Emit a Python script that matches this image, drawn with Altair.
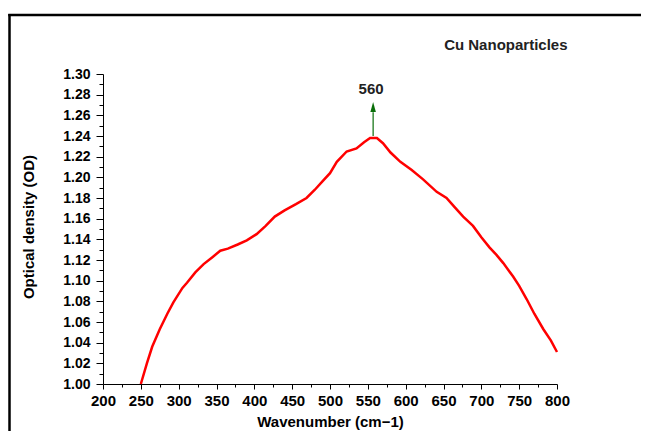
import altair as alt
import pandas as pd

# Spectrum
wavenumber = [250, 258, 265, 275, 285, 293, 305, 311, 322, 333, 345, 355, 365, 378,
              390, 403, 415, 427, 440, 455, 469, 480, 490, 500, 509, 522, 535, 545,
              553, 562, 570, 580, 593, 608, 623, 641, 654, 665, 676, 689, 700, 711,
              720, 729, 742, 750, 760, 770, 782, 792, 800]
optical_density = [1.000, 1.020, 1.036, 1.053, 1.068, 1.079, 1.093, 1.098, 1.108, 1.116,
                   1.123, 1.129, 1.131, 1.135, 1.139, 1.145, 1.153, 1.162, 1.168, 1.174,
                   1.180, 1.188, 1.196, 1.204, 1.215, 1.225, 1.228, 1.234, 1.238, 1.238,
                   1.233, 1.224, 1.215, 1.207, 1.198, 1.186, 1.180, 1.171, 1.162, 1.153,
                   1.142, 1.132, 1.125, 1.117, 1.104, 1.095, 1.082, 1.068, 1.053, 1.042,
                   1.031]

x_ticks = list(range(200, 801, 25))
y_ticks = [round(1.00 + i * 0.01, 2) for i in range(31)]

peak_label = ["560"]
peak_x = [557]
arrow_base = [1.240]
arrow_top = [1.263]
arrow_head = [1.268]
label_y = [1.2806]

chart_title = "Cu Nanoparticles"

FONT = "Liberation Sans"

df = pd.DataFrame({"wn": wavenumber, "od": optical_density})
peak = pd.DataFrame({"wn": peak_x, "base": arrow_base, "top": arrow_top,
                     "head": arrow_head, "ly": label_y, "label": peak_label})

x_scale = alt.Scale(domain=[200, 800], nice=False, zero=False)
y_scale = alt.Scale(domain=[1.00, 1.30], nice=False, zero=False)

x_axis = alt.Axis(
    values=x_ticks,
    labelExpr="datum.value % 50 == 0 ? datum.value : ''",
    tickSize={"condition": {"test": "datum.value % 50 == 0", "value": 5}, "value": 3},
    labelPadding=4,
    labelFont=FONT, labelFontSize=15, labelFontWeight="bold", labelColor="black",
    labelFlush=False, labelOverlap=False,
    domainColor="black", tickColor="black", domainWidth=1, tickWidth=1,
    grid=False,
    title="Wavenumber (cm\u22121)", titleFont=FONT, titleFontSize=15, titleFontWeight="bold",
    titleColor="black", titleY=42, titleBaseline="alphabetic",
)

y_axis = alt.Axis(
    values=y_ticks,
    labelExpr="round(datum.value*100) % 2 == 0 ? format(datum.value, '.2f') : ''",
    tickSize={"condition": {"test": "round(datum.value*100) % 2 == 0", "value": 7}, "value": 4},
    labelPadding=6,
    labelFont=FONT, labelFontSize=14, labelFontWeight="bold", labelColor="black",
    labelFlush=False, labelOverlap=False,
    domainColor="black", tickColor="black", domainWidth=1, tickWidth=1,
    grid=False,
    title="Optical density (OD)", titleFont=FONT, titleFontSize=15, titleFontWeight="bold",
    titleColor="black", titleX=-75, titleY=152.5, titleAngle=-90,
    titleAlign="center", titleBaseline="middle",
)

line = alt.Chart(df).mark_line(color="#ff0000", strokeWidth=2.5).encode(
    x=alt.X("wn:Q", scale=x_scale, axis=x_axis),
    y=alt.Y("od:Q", scale=y_scale, axis=y_axis),
)

arrow = alt.Chart(peak).mark_rule(color="#0a6e0a", strokeWidth=1.2).encode(
    x=alt.X("wn:Q", scale=x_scale, axis=x_axis),
    y=alt.Y("base:Q", scale=y_scale, axis=y_axis),
    y2="top:Q",
)

head = alt.Chart(peak).mark_point(
    shape="M0,-1L0.55,1L-0.55,1Z", filled=True, color="#0a6e0a", size=100, opacity=1
).encode(
    x=alt.X("wn:Q", scale=x_scale, axis=x_axis),
    y=alt.Y("head:Q", scale=y_scale, axis=y_axis),
)

label = alt.Chart(peak).mark_text(
    font=FONT, fontSize=15, fontWeight="bold", color="#222222",
    align="center", baseline="alphabetic", dx=-2
).encode(
    x=alt.X("wn:Q", scale=x_scale, axis=x_axis),
    y=alt.Y("ly:Q", scale=y_scale, axis=y_axis),
    text="label:N",
)

title = alt.Chart(pd.DataFrame({"t": [chart_title]})).mark_text(
    font=FONT, fontSize=15, fontWeight="bold", color="#222222",
    align="right", baseline="alphabetic"
).encode(
    x=alt.value(464.5), y=alt.value(-24), text="t:N"
)

frame_left = alt.Chart(pd.DataFrame({"a": [0]})).mark_rule(color="black", strokeWidth=2.5).encode(
    x=alt.value(-93.5), y=alt.value(-60), y2=alt.value(420)
)
frame_top = alt.Chart(pd.DataFrame({"a": [0]})).mark_rule(color="black", strokeWidth=2.5).encode(
    x=alt.value(-94.75), x2=alt.value(600), y=alt.value(-59)
)

chart = alt.layer(line, arrow, head, label, title, frame_left, frame_top).properties(
    width=454, height=310,
    autosize=alt.AutoSizeParams(type="none"),
    padding={"left": 95, "top": 66, "right": 84, "bottom": 47},
    background="white",
).configure_view(strokeWidth=0, stroke="transparent")

chart.save("out.html", embed_options={"renderer": "svg", "actions": False})
